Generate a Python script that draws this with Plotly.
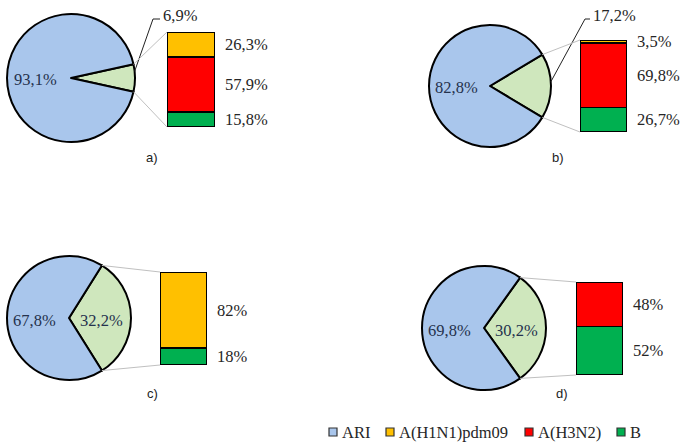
import math
import plotly.graph_objects as go

# ---------------- data ----------------
panels = ["a)", "b)", "c)", "d)"]
ari_share = [93.1, 82.8, 67.8, 69.8]
flu_share = [6.9, 17.2, 32.2, 30.2]
h1n1_share = [26.3, 3.5, 82, 0]
h3n2_share = [57.9, 69.8, 0, 48]
b_share = [15.8, 26.7, 18, 52]
legend_names = ["ARI", "A(H1N1)pdm09", "A(H3N2)", "B"]

# ---------------- style / layout ----------------
W, H = 685, 444
C_ARI = "#A9C6EC"
C_FLU = "#CFE7BD"
C_H1 = "#FFC000"
C_H3 = "#FF0000"
C_B = "#00B050"
SERIF = "Liberation Serif, Times New Roman, serif"
SANS = "Liberation Sans, Arial, sans-serif"
FS = 16.5

pie_geo = [(71, 78, 64), (490, 86, 61), (69, 318, 62), (484, 328, 62)]  # cx, cy, r (px)
bar_geo = [(167, 215, 32, 127), (580, 627, 40, 132), (160, 207, 272, 365), (576, 623, 282, 375)]
flu_inside = [False, False, True, True]
leader = [((6, None), (153, 19), (160, 19)), ((4, None), (585, 19), (590, 19))]
panel_pos = [(152, 157), (558, 157), (152, 393), (562, 393)]
legend_sq_x = [329, 386, 525, 617]
legend_y = 432


def px(x):
    return x / W


def py(y):
    return 1 - y / H


def fmt(v):
    if float(v).is_integer():
        return f"{int(v)}%"
    return f"{v:.1f}".replace(".", ",") + "%"


def txt(x, y, text, xanchor="center", family=SERIF, size=FS, color="#262626"):
    return dict(x=px(x), y=py(y), xref="paper", yref="paper", xanchor=xanchor, yanchor="middle",
                text=text, showarrow=False, font=dict(family=family, size=size, color=color))


fig = go.Figure()
shapes = []
annotations = []
layout_axes = {}

for i in range(4):
    cx, cy, r = pie_geo[i]
    flu, ari = flu_share[i], ari_share[i]
    frac = flu / (flu + ari)
    fig.add_trace(go.Pie(
        values=[flu, ari], labels=["flu", "ARI"], sort=False, direction="clockwise",
        rotation=90 - frac * 180,
        marker=dict(colors=[C_FLU, C_ARI], line=dict(color="black", width=2)),
        textinfo="none", hoverinfo="skip", showlegend=False,
        domain=dict(x=[px(cx - r), px(cx + r)], y=[py(cy + r), py(cy - r)]),
    ))
    # pie labels
    k = 0.55
    annotations.append(txt(cx - k * r, cy + 2, fmt(ari), color="#25324d"))
    if flu_inside[i]:
        annotations.append(txt(cx + 0.53 * r, cy + 2, fmt(flu), color="#25324d"))
    else:
        (ang, _), elbow, end = leader[i]
        a = math.radians(ang)
        sx, sy = cx + r * math.cos(a), cy - r * math.sin(a)
        shapes.append(dict(type="path", xref="paper", yref="paper",
                           path=f"M {px(sx)},{py(sy)} L {px(elbow[0])},{py(elbow[1])} L {px(end[0])},{py(end[1])}",
                           line=dict(color="#222", width=1)))
        annotations.append(txt(end[0] + 1, end[1] - 3, fmt(flu), xanchor="left"))

    # stacked bar
    n = "" if i == 0 else str(i + 1)
    bx0, bx1, by0, by1 = bar_geo[i]
    layout_axes[f"xaxis{n}"] = dict(domain=[px(bx0), px(bx1)], range=[-0.5, 0.5], visible=False,
                                    anchor=f"y{n}", fixedrange=True)
    layout_axes[f"yaxis{n}"] = dict(domain=[py(by1), py(by0)], range=[0, 100], visible=False,
                                    anchor=f"x{n}", fixedrange=True)
    cum = 0
    for val, col in [(b_share[i], C_B), (h3n2_share[i], C_H3), (h1n1_share[i], C_H1)]:
        if val <= 0:
            continue
        fig.add_trace(go.Bar(x=[0], y=[val], width=1, xaxis=f"x{n}", yaxis=f"y{n}",
                             marker=dict(color=col, line=dict(color="black", width=1.6)),
                             hoverinfo="skip", showlegend=False))
        annotations.append(dict(x=1, xref=f"x{n} domain", y=cum + val / 2, yref=f"y{n}",
                                xanchor="left", yanchor="middle", xshift=8, text=fmt(val),
                                showarrow=False, font=dict(family=SERIF, size=FS, color="#262626")))
        cum += val

    # connector lines from slice edges to bar corners
    half = math.pi * frac
    tx, ty = cx + r * math.cos(half), cy - r * math.sin(half)
    bxl, byl = cx + r * math.cos(half), cy + r * math.sin(half)
    shapes.append(dict(type="line", xref="paper", yref="paper", x0=px(tx), y0=py(ty),
                       x1=px(bx0), y1=py(by0), line=dict(color="#C0C0C0", width=1)))
    shapes.append(dict(type="line", xref="paper", yref="paper", x0=px(bxl), y0=py(byl),
                       x1=px(bx0), y1=py(by1), line=dict(color="#C0C0C0", width=1)))

    # panel label
    annotations.append(txt(panel_pos[i][0], panel_pos[i][1], panels[i], family=SANS, size=13, color="#222"))

# manual legend
for name, col, sx in zip(legend_names, [C_ARI, C_H1, C_H3, C_B], legend_sq_x):
    shapes.append(dict(type="rect", xref="paper", yref="paper",
                       x0=px(sx), x1=px(sx + 8), y0=py(legend_y + 4), y1=py(legend_y - 4),
                       fillcolor=col, line=dict(color="#333", width=1.2)))
    annotations.append(txt(sx + 11, legend_y, name, xanchor="left"))

fig.update_layout(
    width=W, height=H, margin=dict(l=0, r=0, t=0, b=0),
    paper_bgcolor="white", plot_bgcolor="white",
    barmode="stack", bargap=0, showlegend=False,
    shapes=shapes, annotations=annotations, **layout_axes,
)

fig.write_html("out.html", config={"displayModeBar": False, "staticPlot": True},
               post_script="document.body.style.margin='0';document.body.style.overflow='hidden';")
